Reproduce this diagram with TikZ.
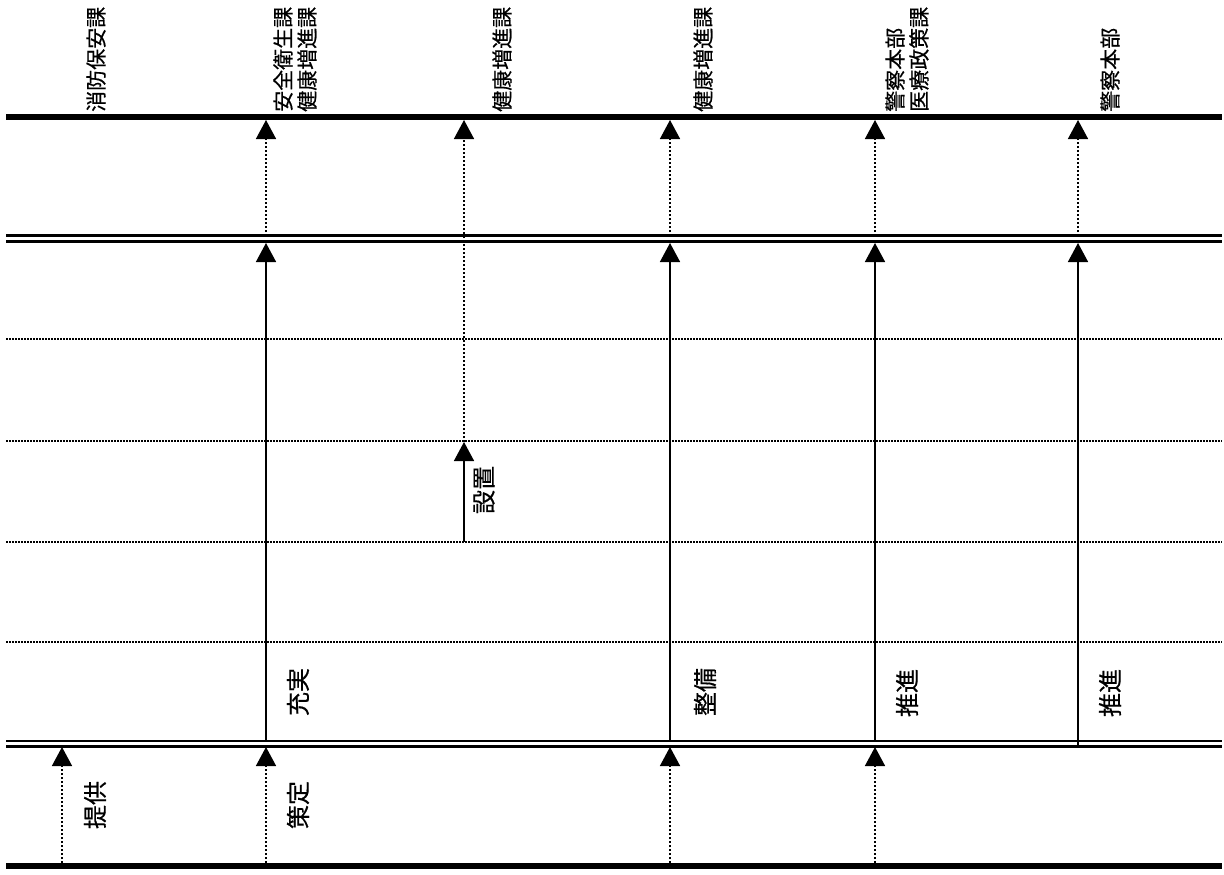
\documentclass[tikz,border=0pt]{standalone}
\usepackage{fontspec}
\newfontfamily\jp[FakeBold=0.5]{Noto Sans CJK JP}
\usetikzlibrary{arrows.meta}
\begin{document}
\begin{tikzpicture}[x=1pt,y=-1pt,
  heavy/.style={line width=6pt},
  dbl/.style={line width=2.5pt},
  gridline/.style={line width=1.5pt,dash pattern=on 2pt off 1pt},
  solidarrow/.style={line width=1.5pt,-{Triangle[width=20pt,length=19pt]}},
  dotarrow/.style={line width=1.5pt,dash pattern=on 2.5pt off 1.5pt,-{Triangle[width=20pt,length=19pt]}},
  hdr/.style={font=\jp\fontsize{21}{24}\selectfont,rotate=90,anchor=west,align=left,inner sep=0pt},
  lbl/.style={font=\jp\fontsize{24}{28}\selectfont,rotate=90,anchor=center,inner sep=0pt}]
\useasboundingbox (0,0) rectangle (1224,875);
\fill[white] (0,0) rectangle (1224,875);
% horizontal lines
\coordinate (L1) at (6,117);   \coordinate (R1) at (1222,117);
\coordinate (L2) at (6,235.5); \coordinate (R2) at (1222,235.5);
\coordinate (L3) at (6,241.5); \coordinate (R3) at (1222,241.5);
\coordinate (L4) at (6,339);   \coordinate (R4) at (1222,339);
\coordinate (L5) at (6,441);   \coordinate (R5) at (1222,441);
\coordinate (L6) at (6,542);   \coordinate (R6) at (1222,542);
\coordinate (L7) at (6,642);   \coordinate (R7) at (1222,642);
\coordinate (L8) at (6,741);   \coordinate (R8) at (1222,741);
\coordinate (L9) at (6,746.5); \coordinate (R9) at (1222,746.5);
\coordinate (L10) at (6,866);  \coordinate (R10) at (1222,866);
\draw[heavy] (L1) -- (R1);
\draw[dbl] (L2) -- (R2);
\draw[dbl] (L3) -- (R3);
\draw[gridline] (L4) -- (R4);
\draw[gridline] (L5) -- (R5);
\draw[gridline] (L6) -- (R6);
\draw[gridline] (L7) -- (R7);
\draw[dbl] (L8) -- (R8);
\draw[dbl] (L9) -- (R9);
\draw[heavy] (L10) -- (R10);
% headers
\node[hdr] (hA) at (96,112) {消防保安課};
\node[hdr] (hB) at (295,112) {安全衛生課\\健康増進課};
\node[hdr] (hC) at (502,112) {健康増進課};
\node[hdr] (hD) at (703,112) {健康増進課};
\node[hdr] (hE) at (907,112) {警察本部\\医療政策課};
\node[hdr] (hF) at (1110,112) {警察本部};
% column coordinates
\foreach \n/\x in {A/62,B/266,C/464,D/670,E/875,F/1078}{
  \coordinate (\n t) at (\x,120);
  \coordinate (\n u) at (\x,236);
  \coordinate (\n v) at (\x,243);
  \coordinate (\n l) at (\x,741);
  \coordinate (\n m) at (\x,747);
  \coordinate (\n b) at (\x,863);
}
\coordinate (Cg) at (464,442);
\coordinate (Ch) at (464,542);
% column A
\draw[dotarrow] (Ab) -- (Am);
% column B
\draw[dotarrow] (Bu) -- (Bt);
\draw[solidarrow] (Bl) -- (Bv);
\draw[dotarrow] (Bb) -- (Bm);
% column C
\draw[dotarrow] (Cg) -- (Ct);
\draw[solidarrow] (Ch) -- (Cg);
% column D
\draw[dotarrow] (Du) -- (Dt);
\draw[solidarrow] (Dl) -- (Dv);
\draw[dotarrow] (Db) -- (Dm);
% column E
\draw[dotarrow] (Eu) -- (Et);
\draw[solidarrow] (El) -- (Ev);
\draw[dotarrow] (Eb) -- (Em);
% column F
\draw[dotarrow] (Fu) -- (Ft);
\draw[solidarrow] (Fm) -- (Fv);
% labels
\node[lbl] (l1) at (298,692) {充実};
\node[lbl] (l2) at (705,692) {整備};
\node[lbl] (l3) at (907,693) {推進};
\node[lbl] (l4) at (1110,693) {推進};
\node[lbl] (l5) at (484,490) {設置};
\node[lbl] (l6) at (95,805) {提供};
\node[lbl] (l7) at (298,805) {策定};
\end{tikzpicture}
\end{document}
